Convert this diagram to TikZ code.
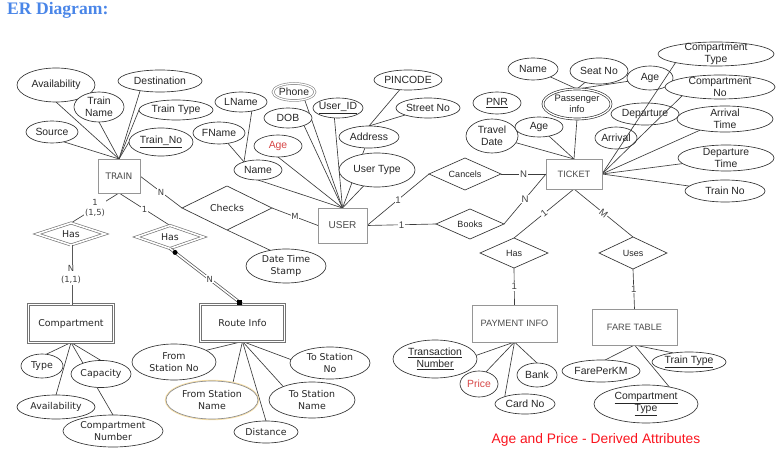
\documentclass[tikz,border=0pt]{standalone}
\usepackage{fontspec}
\setmainfont{Liberation Sans}
\newfontfamily\verd{DejaVu Sans}
\newfontfamily\titlef{Liberation Serif}
\usetikzlibrary{shapes.geometric,backgrounds}
\definecolor{titleblue}{RGB}{74,134,232}
\definecolor{derred}{RGB}{215,70,70}
\definecolor{footred}{RGB}{250,20,30}
\definecolor{lc}{RGB}{60,60,60}
\definecolor{ec}{RGB}{50,50,50}
\definecolor{bc}{RGB}{150,150,150}
\definecolor{glow}{RGB}{248,224,168}
\newcommand\fA{\fontsize{10.4}{12}\selectfont}
\newcommand\fV{\verd\fontsize{9.4}{11.8}\selectfont}
\newcommand\fP{\fontsize{9.4}{11}\selectfont}
\newcommand\fLA{\fontsize{9.6}{10}\selectfont}
\newcommand\fLV{\verd\fontsize{8.4}{10.8}\selectfont}
\newcommand\fR{\fontsize{9}{11}\selectfont}
\newcommand\fT{\verd\fontsize{9}{11}\selectfont}
\newcommand\fU{\fontsize{10}{12}\selectfont}
\newcommand\fK{\fontsize{9.2}{11}\selectfont}
\newcommand\Shp[7][]{\node[#1,minimum width=#4,minimum height=#5] (#2) at (#3) {}; \node[txt,#6] (#2-t) at (#2.center) {#7};}
\begin{document}
\begin{tikzpicture}[x=1pt,y=-1pt,
 con/.style={draw=lc, line width=0.65pt},
 attr/.style={ellipse, draw=ec, line width=0.65pt, fill=white, inner sep=0pt, outer sep=0pt},
 ent/.style={rectangle, draw=bc, line width=0.8pt, fill=white, inner sep=0pt, outer sep=0pt},
 rel/.style={diamond, draw=ec, line width=0.65pt, fill=white, inner sep=0pt, outer sep=0pt},
 wk/.style={double=white, double distance=1.6pt},
 wkl/.style={draw=black!65, line width=0.75pt, double=white, double distance=1.5pt},
 txt/.style={align=center, inner sep=0pt, font=\fA, text=black!85},
 lbla/.style={fill=white, inner sep=0.8pt, font=\fLA, text=black!75},
 lblv/.style={fill=white, inner sep=0.8pt, font=\fLV, text=black!75, align=center}]
\useasboundingbox (0,0) rectangle (776,462);
\node[anchor=west, font=\titlef\bfseries\fontsize{17.6}{19}\selectfont, text=titleblue, inner sep=0pt] (title) at (7,10.5) {ER Diagram:};
\node[font=\fontsize{13.8}{16}\selectfont, text=footred, inner sep=0pt] (foot) at (596,440) {Age and Price - Derived Attributes};

% entities
\Shp[ent]{train}{119,176}{42}{34}{font=\fT, text=black!70}{TRAIN}
\Shp[ent]{user}{342.5,225.5}{49}{35}{font=\fU, text=black!70}{USER}
\Shp[ent]{ticket}{574,174}{56}{30}{font=\fK, text=black!70}{TICKET}
\Shp[ent]{payment}{514.5,323.5}{85}{37}{font=\fK, text=black!70}{PAYMENT INFO}
\Shp[ent]{fare}{634.5,327}{85}{36}{font=\fK, text=black!70}{FARE TABLE}
\Shp[ent, draw=black!55, wk]{comp}{71,323.5}{85}{38}{font=\fV}{Compartment}
\Shp[ent, draw=black!55, wk]{route}{242.5,323}{84}{37}{font=\fV}{Route Info}

% relationships
\Shp[rel]{checks}{227,208}{90}{44}{font=\fV}{Checks}
\Shp[rel, draw=black!55, wk]{hasA}{71,234}{68}{22}{font=\fV}{Has}
\Shp[rel, draw=black!55, wk]{hasB}{170,237}{67}{23}{font=\fV}{Has}
\Shp[rel]{cancels}{465,174}{72}{32}{font=\fR}{Cancels}
\Shp[rel]{books}{470,224}{68}{30}{font=\fR}{Books}
\Shp[rel]{has2}{514,253}{68}{30}{font=\fR}{Has}
\Shp[rel]{uses}{633,253}{68}{32}{font=\fR}{Uses}

% TRAIN attributes
\Shp[attr]{avail1}{56,85}{78}{34}{}{Availability}
\Shp[attr]{dest}{160,81}{84}{22}{}{Destination}
\Shp[attr]{tname}{99,107}{50}{30}{}{Train\\Name}
\Shp[attr]{ttype}{176,110}{74}{20}{}{Train Type}
\Shp[attr]{source}{52,132}{52}{22}{}{Source}
\Shp[attr]{tno}{161,142}{64}{28}{}{\underline{Train\_No}}
\Shp[attr]{dts}{286,266}{80}{34}{font=\fV}{Date Time\\Stamp}

% USER attributes
\Shp[attr, draw=black!45, double=white, double distance=1.2pt]{phone}{294,92}{42}{17}{}{Phone}
\Shp[attr]{uid}{338,108}{50}{20}{}{\underline{User\_ID}}
\Shp[attr]{pincode}{408,80}{68}{20}{}{PINCODE}
\Shp[attr]{street}{428,108}{64}{20}{}{Street No}
\Shp[attr]{dob}{288,118}{48}{20}{}{DOB}
\Shp[attr]{address}{369,137}{60}{22}{}{Address}
\Shp[attr]{age1}{278,146}{48}{22}{text=derred}{Age}
\Shp[attr]{name1}{258,170}{48}{20}{}{Name}
\Shp[attr]{utype}{377,170}{76}{34}{}{User Type}
\Shp[attr]{lname}{241,102}{52}{20}{}{LName}
\Shp[attr]{fname}{219,133}{52}{22}{}{FName}

% TICKET attributes
\Shp[attr]{pname}{533,69}{50}{22}{}{Name}
\Shp[attr]{seat}{599,71}{58}{26}{}{Seat No}
\Shp[attr, fill=none]{age3}{650,78}{46}{24}{}{Age}
\Shp[attr]{pnr}{497,103}{48}{22}{}{\underline{PNR}}
\Shp[attr, double=white, double distance=1.3pt]{pinfo}{577,104}{68}{30}{font=\fP}{Passenger\\info}
\Shp[attr, fill=none]{dep}{645,114}{68}{22}{}{Departure}
\Shp[attr]{arrt}{725,119}{96}{26}{}{Arrival\\Time}
\Shp[attr]{tdate}{492,136}{52}{34}{}{Travel\\Date}
\Shp[attr]{age2}{539,127}{48}{20}{}{Age}
\Shp[attr, fill=none]{arr}{616,138}{42}{22}{}{Arrival}
\Shp[attr]{dept}{726,158}{96}{26}{}{Departure\\Time}
\Shp[attr]{trainno}{725,191}{80}{22}{}{Train No}
\Shp[attr]{ctypeT}{716,54}{116}{24}{}{Compartment\\Type}
\Shp[attr]{cnoT}{720,87}{110}{24}{}{Compartment\\No}

% Compartment attributes
\Shp[attr]{ctype}{42,366}{42}{24}{font=\fV}{Type}
\Shp[attr]{capacity}{101,374}{60}{27}{font=\fV}{Capacity}
\Shp[attr]{avail2}{56,407}{78}{24}{font=\fV}{Availability}
\Shp[attr]{cnum}{113,431}{100}{32}{font=\fV}{Compartment\\Number}

% Route Info attributes
\Shp[attr]{fsn}{174,362}{84}{36}{font=\fV}{From\\Station No}
\Shp[attr, draw=black!45, preaction={draw=glow, line width=2.4pt}]{fsname}{212,400}{92}{38}{font=\fV}{From Station\\Name}
\Shp[attr]{tsno}{330,363}{80}{32}{font=\fV}{To Station\\No}
\Shp[attr]{tsname}{312,400}{86}{36}{font=\fV}{To Station\\Name}
\Shp[attr]{dist}{266,432}{64}{22}{font=\fV}{Distance}

% PAYMENT INFO attributes
\Shp[attr]{tnum}{435,359}{84}{38}{}{\underline{Transaction}\\\underline{Number}}
\Shp[attr]{price}{479,384}{38}{26}{text=derred}{Price}
\Shp[attr]{bank}{537,375}{40}{24}{}{Bank}
\Shp[attr]{cardno}{525,404}{60}{20}{}{Card No}

% FARE TABLE attributes
\Shp[attr]{fpk}{601,371}{78}{22}{}{FarePerKM}
\Shp[attr]{ttype2}{689,362}{74}{20}{}{\underline{Train Type}}
\Shp[attr]{ctype2}{646,404}{104}{38}{}{\underline{Compartment}\\\underline{Type}}

\begin{scope}[on background layer]
% TRAIN
\draw[con] (train.north) -- (avail1.south);
\draw[con] (train.north) -- (tname.south);
\draw[con] (train.north) -- (dest.206);
\draw[con] (train.north) -- (ttype.west);
\draw[con] (train.north) -- (source.-40);
\draw[con] (train.north) -- (tno.west);
\draw[con] (train.east) -- node[lblv] (lN1) {N} (checks.west);
\draw[con] (checks.east) -- node[lblv] (lM1) {M} (user.west);
\draw[con] (checks.south) -- (dts.135);
\draw[con] (train.south) -- node[lblv] (l15) {1\\(1,5)} (hasA.north);
\draw[con] (train.south) -- node[lblv] (l1b) {1} (hasB.north);
% USER
\draw[con] (user.north) -- (name1.south);
\draw[con] (user.north) -- (age1.south);
\draw[con] (user.north) -- (dob.-25);
\draw[con] (user.north) -- (phone.-35);
\draw[con] (user.north) -- (uid.250);
\draw[con] (user.north) -- (utype.230);
\draw[con] (user.north) -- (address);
\draw[con] (address.north) -- (pincode);
\draw[con] (address.north) -- (street);
\draw[con] (name1.150) -- (fname);
\draw[con] (name1.150) -- (lname.-40);
\draw[con] (user.east) -- node[lbla] (l1c) {1} (cancels.west);
\draw[con] (user.east) -- node[lbla] (l1d) {1} (books.west);
% TICKET
\draw[con] (cancels.east) -- node[lbla] (lN3) {N} (ticket.west);
\draw[con] (books.east) -- node[lbla] (lN4) {N} (ticket.west);
\draw[con] (ticket.south) -- node[lbla, sloped] (l1e) {1} (has2.north);
\draw[con] (ticket.south) -- node[lbla, sloped] (lM2) {M} (uses.north);
\draw[con] (has2.south) -- node[lbla] (l1f) {1} (payment.north);
\draw[con] (uses.south) -- node[lbla] (l1g) {1} (fare.north);
\draw[con] (ticket.north) -- (tdate);
\draw[con] (ticket.north) -- (age2);
\draw[con] (ticket.north) -- (pinfo.south);
\draw[con] (pinfo.north) -- (pname);
\draw[con] (pinfo.north) -- (seat);
\draw[con] (pinfo.north) -- (age3);
\draw[con] (ticket.east) -- (ctypeT.192);
\draw[con] (ticket.east) -- (cnoT.193);
\draw[con] (ticket.east) -- (arrt);
\draw[con] (ticket.east) -- (dept);
\draw[con] (ticket.east) -- (trainno);
% Compartment
\draw[con] (comp.south) -- (ctype.70);
\draw[con] (comp.south) -- (capacity.north);
\draw[con] (comp.south) -- (avail2.north);
\draw[con] (comp.south) -- (cnum.north);
% Route Info
\draw[con] (route.south) -- (fsn.20);
\draw[con] (route.south) -- (fsname.39);
\draw[con] (route.south) -- (dist.north);
\draw[con] (route.south) -- (tsname.155);
\draw[con] (route.south) -- (tsno.175);
% Payment
\draw[con] (payment.south) -- (tnum.5);
\draw[con] (payment.south) -- (price.60);
\draw[con] (payment.south) -- (cardno.160);
\draw[con] (payment.south) -- (bank.north);
% Fare
\draw[con] (fare.south) -- (fpk.70);
\draw[con] (fare.south) -- (ttype2.150);
\draw[con] (fare.south) -- (ctype2.36);
\end{scope}

\draw[wkl] (hasA.south) -- node[lblv] (lN11) {N\\(1,1)} (comp.north);
\draw[wkl] (hasB.south) -- node[lblv, pos=0.55] (lN2) {N}
  node[pos=0.07, circle, fill=black, inner sep=0pt, minimum size=5pt] (dotm) {}
  node[pos=0.96, rectangle, fill=black, inner sep=0pt, minimum size=5.5pt] (sqm) {} (route.north);
\end{tikzpicture}
\end{document}
